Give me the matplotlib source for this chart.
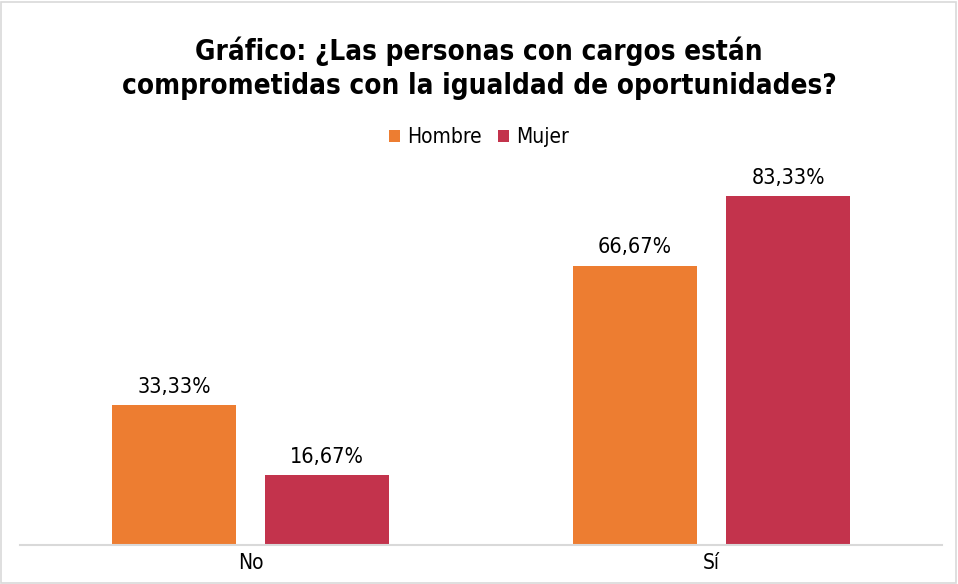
import numpy as np
import matplotlib.pyplot as plt
from matplotlib.patches import Rectangle

plt.rcParams['font.family'] = ['DejaVu Sans']
plt.rcParams['font.stretch'] = 'condensed'

categories = ['No', 'Sí']
hombre = [33.33, 66.67]
mujer = [16.67, 83.33]
series_names = ['Hombre', 'Mujer']

fig = plt.figure(figsize=(9.58, 5.84), dpi=100)
ax = fig.add_axes([0.0209, 0.0668, 0.9624, 0.6455])

x = np.arange(len(categories))
w = 0.267
off = 0.166
b1 = ax.bar(x - off, hombre, w, color='#ED7D31', label=series_names[0])
b2 = ax.bar(x + off, mujer, w, color='#C3334C', label=series_names[1])

# etiquetas de valor sobre cada barra
for bars, vals in ((b1, hombre), (b2, mujer)):
    for r, v in zip(bars, vals):
        ax.text(r.get_x() + r.get_width() / 2, v + 2.0, f'{v:.2f}%'.replace('.', ','),
                ha='center', va='bottom', fontsize=15.5, color='#000000')

ax.set_xlim(-0.5, 1.5)
ax.set_ylim(0, 90)
ax.set_xticks(x)
ax.set_xticklabels(categories, fontsize=15)
ax.tick_params(axis='x', length=0, pad=6)
ax.set_yticks([])
for s in ['top', 'right', 'left']:
    ax.spines[s].set_visible(False)
ax.spines['bottom'].set_color('#D9D9D9')
ax.spines['bottom'].set_linewidth(1.5)

fig.text(0.5, 0.883, 'Gráfico: ¿Las personas con cargos están\ncomprometidas con la igualdad de oportunidades?',
         ha='center', va='center', fontsize=20, fontweight='bold', linespacing=1.24)

fig.legend(handles=[b1, b2], loc='center', bbox_to_anchor=(0.5, 0.765), ncol=2,
           frameon=False, fontsize=15, handlelength=0.5, handleheight=0.5,
           handletextpad=0.35, columnspacing=0.8)

fig.patches.append(Rectangle((0.001, 0.001), 0.997, 0.996, transform=fig.transFigure,
                             fill=False, edgecolor='#D9D9D9', linewidth=1.2))

fig.savefig('out.png', dpi=100)
